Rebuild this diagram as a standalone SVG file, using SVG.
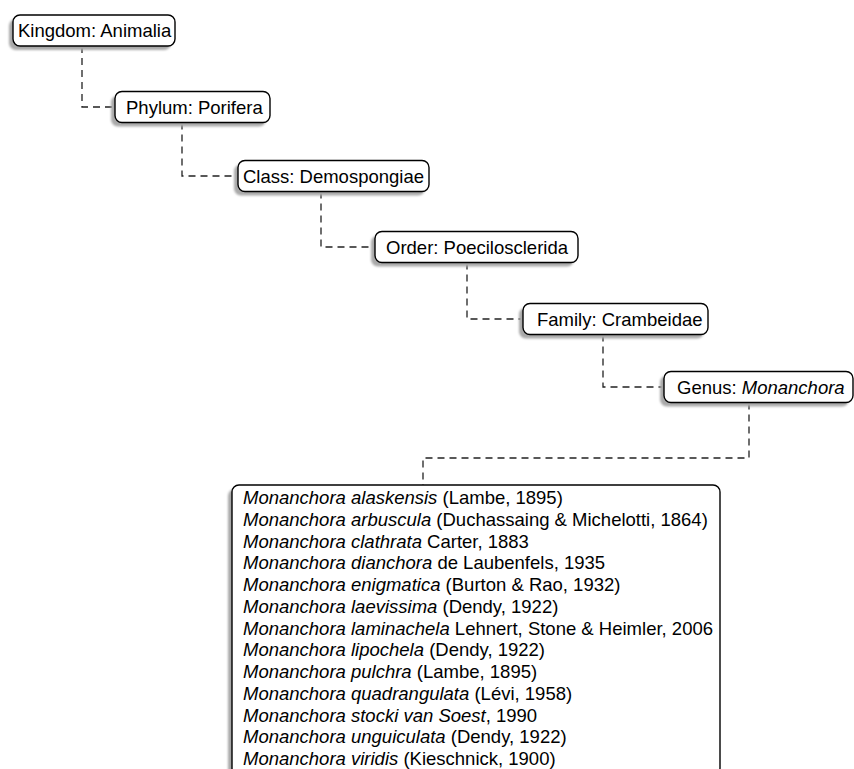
<svg xmlns="http://www.w3.org/2000/svg" width="854" height="769" viewBox="0 0 854 769">
<defs>
<style>
.box{fill:#fff;stroke:#000;stroke-width:1.4}
.sh{fill:#a9a9a9}
.t{font-family:"Liberation Sans",Arial,sans-serif;font-size:18.5px;fill:#000}
.i{font-style:italic}
.c{fill:none;stroke:#222;stroke-width:1.3;stroke-dasharray:7,5}
</style>
<filter id="blur" x="-10%" y="-10%" width="120%" height="120%"><feGaussianBlur stdDeviation="1"/></filter>
</defs>
<rect width="854" height="769" fill="#fff"/>
<g id="connectors">
<path class="c" d="M82,46 V107 H115"/>
<path class="c" d="M182,122.5 V176 H238"/>
<path class="c" d="M321,191.5 V247 H375"/>
<path class="c" d="M467,262.5 V319 H523"/>
<path class="c" d="M603,334.5 V387 H664"/>
<path class="c" d="M749,402.5 V458 H423 V485"/>
</g>
<g id="kingdom">
<rect class="sh" filter="url(#blur)" x="9" y="19" width="162" height="31" rx="7"/>
<rect class="box" x="13" y="15" width="162" height="31" rx="7"/>
<text class="t" x="18" y="37">Kingdom: Animalia</text>
</g>
<g id="phylum">
<rect class="sh" filter="url(#blur)" x="111" y="95.5" width="155" height="31" rx="7"/>
<rect class="box" x="115" y="91.5" width="155" height="31" rx="7"/>
<text class="t" x="126" y="113.5">Phylum: Porifera</text>
</g>
<g id="class">
<rect class="sh" filter="url(#blur)" x="234" y="164.5" width="191" height="31" rx="7"/>
<rect class="box" x="238" y="160.5" width="191" height="31" rx="7"/>
<text class="t" x="243" y="182.5">Class: Demospongiae</text>
</g>
<g id="order">
<rect class="sh" filter="url(#blur)" x="371" y="235.5" width="203" height="31" rx="7"/>
<rect class="box" x="375" y="231.5" width="203" height="31" rx="7"/>
<text class="t" x="386" y="253.5">Order: Poecilosclerida</text>
</g>
<g id="family">
<rect class="sh" filter="url(#blur)" x="519" y="307.5" width="185" height="31" rx="7"/>
<rect class="box" x="523" y="303.5" width="185" height="31" rx="7"/>
<text class="t" x="537" y="325.5">Family: Crambeidae</text>
</g>
<g id="genus">
<rect class="sh" filter="url(#blur)" x="660" y="375.5" width="189" height="31" rx="7"/>
<rect class="box" x="664" y="371.5" width="189" height="31" rx="7"/>
<text class="t" x="677" y="393.5">Genus: <tspan class="i">Monanchora</tspan></text>
</g>
<g id="species">
<rect class="sh" filter="url(#blur)" x="228" y="489" width="488" height="290" rx="7"/>
<rect class="box" x="232" y="485" width="488" height="290" rx="7"/>
<text class="t" x="243" y="504"><tspan class="i">Monanchora alaskensis</tspan> (Lambe, 1895)</text>
<text class="t" x="243" y="525.75"><tspan class="i">Monanchora arbuscula</tspan> (Duchassaing &amp; Michelotti, 1864)</text>
<text class="t" x="243" y="547.5"><tspan class="i">Monanchora clathrata</tspan> Carter, 1883</text>
<text class="t" x="243" y="569.25"><tspan class="i">Monanchora dianchora</tspan> de Laubenfels, 1935</text>
<text class="t" x="243" y="591"><tspan class="i">Monanchora enigmatica</tspan> (Burton &amp; Rao, 1932)</text>
<text class="t" x="243" y="612.75"><tspan class="i">Monanchora laevissima</tspan> (Dendy, 1922)</text>
<text class="t" x="243" y="634.5"><tspan class="i">Monanchora laminachela</tspan> Lehnert, Stone &amp; Heimler, 2006</text>
<text class="t" x="243" y="656.25"><tspan class="i">Monanchora lipochela</tspan> (Dendy, 1922)</text>
<text class="t" x="243" y="678"><tspan class="i">Monanchora pulchra</tspan> (Lambe, 1895)</text>
<text class="t" x="243" y="699.75"><tspan class="i">Monanchora quadrangulata</tspan> (Lévi, 1958)</text>
<text class="t" x="243" y="721.5"><tspan class="i">Monanchora stocki van Soest</tspan>, 1990</text>
<text class="t" x="243" y="743.25"><tspan class="i">Monanchora unguiculata</tspan> (Dendy, 1922)</text>
<text class="t" x="243" y="765"><tspan class="i">Monanchora viridis</tspan> (Kieschnick, 1900)</text>
</g>
</svg>
